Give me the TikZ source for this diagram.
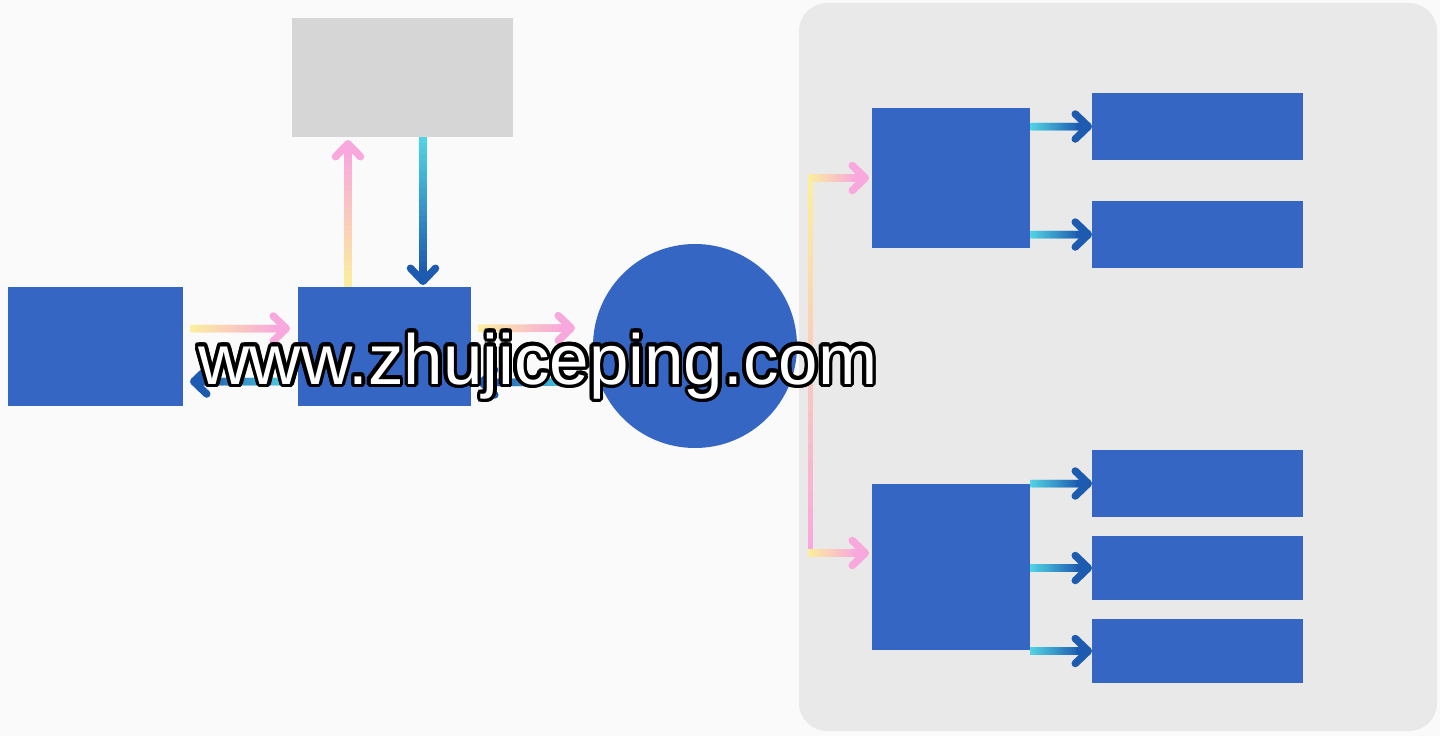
\documentclass[tikz,border=0pt]{standalone}
\usepackage{fontspec}
\setmainfont{Liberation Sans}
\usepackage{tikz}
\usetikzlibrary{positioning}
\usetikzlibrary{calc}
\usetikzlibrary{arrows.meta}

\definecolor{fondo}{HTML}{FAFAFA}
\definecolor{panel}{HTML}{E9E9E9}
\definecolor{gris}{HTML}{D6D6D6}
\definecolor{azul}{HTML}{3566C4}
\definecolor{rosa}{HTML}{F8A8DC}
\definecolor{amarillo}{HTML}{FBEE9E}
\definecolor{cian}{HTML}{52D3E3}
\definecolor{azulosc}{HTML}{1D5BB0}

\tikzset{punta/.style={-{Straight Barb[length=13pt,width=25pt,round]}}}

% tramo con degradado: desde, hasta, color inicial, color final, grosor
\newcommand{\tramograd}[5]{%
  \coordinate (ini) at (#1);
  \coordinate (fin) at (#2);
  \foreach \k in {0,...,23}{
    \pgfmathsetmacro{\pa}{\k/24}
    \pgfmathsetmacro{\pb}{min(1,(\k+1.8)/24)}
    \pgfmathtruncatemacro{\mezcla}{\k*100/23}
    \draw[line width=#5, #4!\mezcla!#3] ($(ini)!\pa!(fin)$) -- ($(ini)!\pb!(fin)$);
  }
}
% flecha con degradado: desde, hasta, color inicial, color final
\newcommand{\flecha}[4]{%
  \coordinate (fa) at (#1);
  \coordinate (fb) at (#2);
  \tramograd{fa}{$(fb)!12pt!(fa)$}{#3}{#4}{7.5pt}
  \draw[line width=7.5pt, #4, punta] ($(fb)!16pt!(fa)$) -- (fb);
}

\begin{document}
\begin{tikzpicture}[x=1pt, y=-1pt, every node/.style={inner sep=0pt, outer sep=0pt}]
            \fill[fondo] (0,0) rectangle (1440,736);
            \useasboundingbox (0,0) rectangle (1440,736);

            % Nodos
            \node[fill=panel, rounded corners=28pt, minimum width=638pt, minimum height=728pt] (panel) at (1118,367) {};
            \node[fill=azul, minimum width=175pt, minimum height=119pt] (e) at (95.5,346.5) {};
            \node[fill=azul, minimum width=173pt, minimum height=119pt] (p) at (384.5,346.5) {};
            \node[fill=gris, minimum width=221pt, minimum height=119pt] (g) at (402.5,77.5) {};
            \node[fill=azul, circle, minimum size=204pt] (c) at (695,346) {};
            \node[fill=azul, minimum width=158pt, minimum height=140pt] (ga) at (951,178) {};
            \node[fill=azul, minimum width=158pt, minimum height=166pt] (gb) at (951,567) {};
            \node[fill=azul, minimum width=211pt, minimum height=67pt] (a1) at (1197.5,126.5) {};
            \node[fill=azul, minimum width=211pt, minimum height=67pt] (a2) at (1197.5,234.5) {};
            \node[fill=azul, minimum width=211pt, minimum height=67pt] (b1) at (1197.5,483.5) {};
            \node[fill=azul, minimum width=211pt, minimum height=64pt] (b2) at (1197.5,568) {};
            \node[fill=azul, minimum width=211pt, minimum height=64pt] (b3) at (1197.5,651) {};
            \coordinate (rsup) at (810,178);
            \coordinate (rinf) at (810,553);

            % Flechas
            \flecha{[yshift=18pt,xshift=7pt]e.east}{[yshift=18pt,xshift=-8pt]p.west}{amarillo}{rosa}
            \flecha{[yshift=-35pt,xshift=-8pt]p.west}{[yshift=-35pt,xshift=7pt]e.east}{cian}{azulosc}
            \flecha{[yshift=18pt,xshift=7pt]p.east}{[yshift=18pt,xshift=-18pt]c.west}{amarillo}{rosa}
            \flecha{[yshift=-36pt,xshift=-18pt]c.west}{[yshift=-36pt,xshift=7pt]p.east}{cian}{azulosc}
            \flecha{[xshift=-36.5pt]p.north}{[xshift=-54.5pt,yshift=-3pt]g.south}{amarillo}{rosa}
            \flecha{[xshift=20.5pt]g.south}{[xshift=38.5pt,yshift=2pt]p.north}{cian}{azulosc}
            \tramograd{rsup}{rinf}{amarillo}{rosa}{5pt}
            \flecha{[xshift=-2.5pt]rsup}{[xshift=-3pt]ga.west}{amarillo}{rosa}
            \flecha{[xshift=-2.5pt]rinf}{[xshift=-3pt,yshift=14pt]gb.west}{amarillo}{rosa}
            \flecha{ga.east |- a1.west}{a1.west}{cian}{azulosc}
            \flecha{ga.east |- a2.west}{a2.west}{cian}{azulosc}
            \flecha{gb.east |- b1.west}{b1.west}{cian}{azulosc}
            \flecha{gb.east |- b2.west}{b2.west}{cian}{azulosc}
            \flecha{gb.east |- b3.west}{b3.west}{cian}{azulosc}

            % Texto (contorno negro y relleno blanco)
            \foreach \ang in {0,20,...,340}
              \node[anchor=base, font=\fontsize{71}{75}\selectfont, text=black] at ([shift={(\ang:3.5pt)}]538,384) {www.zhujiceping.com};
            \node[anchor=base, font=\fontsize{71}{75}\selectfont, text=white] (wm) at (538,384) {www.zhujiceping.com};
          \end{tikzpicture}
\end{document}
